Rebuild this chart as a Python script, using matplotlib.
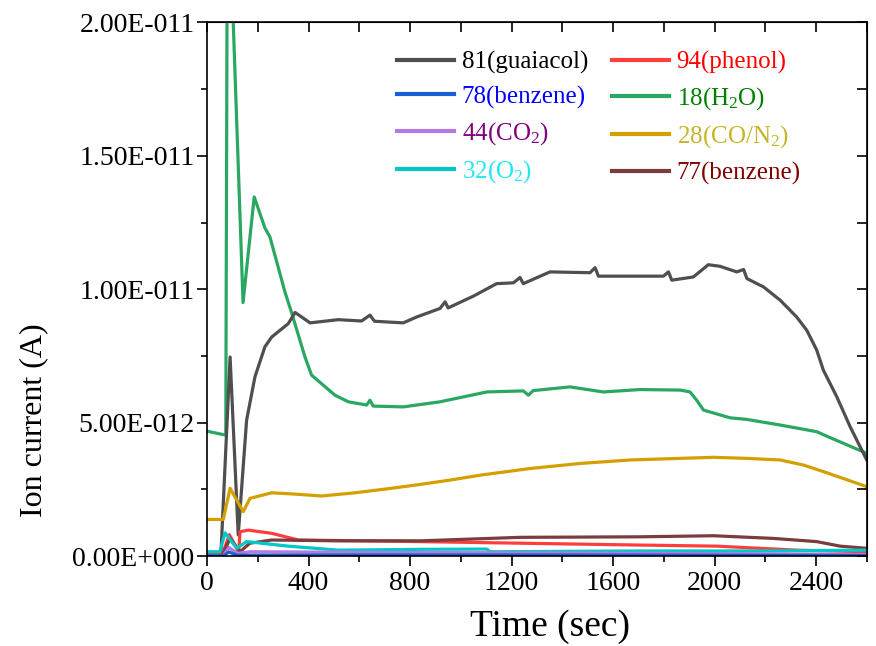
import numpy as np
import matplotlib
matplotlib.use("Agg")
import matplotlib.pyplot as plt
from matplotlib.ticker import MultipleLocator, FuncFormatter

plt.rcParams['font.family'] = ['Liberation Serif', 'DejaVu Serif']
plt.rcParams['mathtext.fontset'] = 'custom'
plt.rcParams['mathtext.rm'] = 'Liberation Serif'
plt.rcParams['mathtext.it'] = 'Liberation Serif:italic'

# ion currents in units of 1E-12 A, time in sec
t_81 = [0, 55, 91, 123, 156, 189, 228, 255, 320, 347, 406, 517, 609, 642, 660, 773, 826,
        918, 938, 950, 1049, 1141, 1207, 1233, 1246, 1351, 1509, 1529, 1542, 1706, 1798,
        1818, 1831, 1916, 1975, 2021, 2087, 2114, 2127, 2192, 2258, 2323, 2363, 2402,
        2428, 2481, 2534, 2599]
i_81 = [0.05, 0.1, 7.46, 0.79, 5.09, 6.72, 7.84, 8.21, 8.71, 9.13, 8.74, 8.86, 8.81, 9.03,
        8.8, 8.74, 8.96, 9.28, 9.53, 9.3, 9.74, 10.21, 10.24, 10.44, 10.21, 10.65, 10.62,
        10.81, 10.49, 10.49, 10.49, 10.65, 10.34, 10.46, 10.92, 10.86, 10.65, 10.74, 10.4,
        10.09, 9.59, 8.96, 8.46, 7.72, 6.97, 5.97, 4.84, 3.6]

t_18 = [0, 74, 80, 96, 142, 186, 228, 248, 307, 334, 386, 412, 504, 557, 629, 642, 655,
        773, 918, 1102, 1246, 1266, 1285, 1430, 1561, 1706, 1864, 1903, 1929, 1956, 2061,
        2127, 2258, 2402, 2442, 2599]
i_18 = [4.68, 4.53, 24.0, 22.0, 9.5, 13.46, 12.3, 11.96, 9.9, 9.1, 7.46, 6.78, 6.03, 5.78,
        5.66, 5.84, 5.62, 5.59, 5.78, 6.15, 6.19, 6.03, 6.2, 6.34, 6.15, 6.24, 6.22, 6.15,
        5.84, 5.47, 5.18, 5.12, 4.91, 4.66, 4.49, 3.85]

t_28 = [0, 64, 91, 143, 169, 255, 347, 452, 583, 728, 852, 960, 1076, 1273, 1470, 1667,
        1864, 1995, 2127, 2258, 2350, 2442, 2599]
i_28 = [1.37, 1.37, 2.54, 1.66, 2.16, 2.37, 2.32, 2.25, 2.37, 2.54, 2.7, 2.85, 3.03, 3.28,
        3.47, 3.6, 3.66, 3.7, 3.66, 3.6, 3.41, 3.12, 2.6]

t_94 = [0, 60, 88, 125, 130, 163, 255, 360, 839, 1102, 1706, 2008, 2323, 2599]
i_94 = [0.05, 0.05, 0.8, 0.15, 0.91, 0.97, 0.85, 0.6, 0.54, 0.5, 0.41, 0.37, 0.22, 0.16]

t_77 = [0, 60, 91, 130, 169, 255, 517, 846, 1233, 1706, 1995, 2231, 2402, 2494, 2599]
i_77 = [0.02, 0.02, 0.66, 0.16, 0.48, 0.6, 0.57, 0.57, 0.7, 0.72, 0.76, 0.66, 0.54, 0.37, 0.29]

t_32 = [0, 51, 71, 117, 156, 320, 517, 839, 1102, 1115, 1706, 2179, 2599]
i_32 = [0.16, 0.16, 0.87, 0.29, 0.54, 0.37, 0.22, 0.25, 0.26, 0.16, 0.19, 0.19, 0.22]

t_44 = [0, 65, 86, 120, 170, 600, 1200, 1800, 2400, 2599]
i_44 = [0.02, 0.02, 0.32, 0.1, 0.16, 0.14, 0.12, 0.1, 0.07, 0.05]

t_78 = [0, 65, 86, 120, 400, 1200, 2000, 2599]
i_78 = [0.01, 0.01, 0.15, 0.03, 0.04, 0.04, 0.03, 0.02]

fig = plt.figure(figsize=(8.76, 6.46), dpi=100)
ax = fig.add_axes([0.2363, 0.1393, 0.7534, 0.8259])

lw = 2.3
series = [
    (t_81, i_81, '#4f4f4f', '81(guaiacol)', '#000000'),
    (t_94, i_94, '#ff3d3d', '94(phenol)', '#ff0000'),
    (t_78, i_78, '#1a5fd6', '78(benzene)', '#0000ff'),
    (t_18, i_18, '#2aa862', '18(H$_2$O)', '#008000'),
    (t_44, i_44, '#b47ae0', '44(CO$_2$)', '#800080'),
    (t_28, i_28, '#d4a000', '28(CO/N$_2$)', '#c8b428'),
    (t_32, i_32, '#00c8c8', '32(O$_2$)', '#22e8f0'),
    (t_77, i_77, '#7a3c3c', '77(benzene)', '#800000'),
]
# draw order: big ones first, small ones on top
order = [3, 0, 5, 1, 7, 6, 4, 2]
lines = {}
for k in order:
    t, v, c, lab, tc = series[k]
    ln, = ax.plot(t, np.array(v) * 1e-12, color=c, lw=lw, label=lab, solid_joinstyle='round')
    lines[k] = ln

# legend is filled row by row in the reference -> give it column order
leg_order = [0, 2, 4, 6, 1, 3, 5, 7]
handles = [lines[k] for k in leg_order]
labels = [series[k][3] for k in leg_order]
leg = ax.legend(handles, labels, ncol=2, frameon=False, fontsize=18,
                loc='upper left', bbox_to_anchor=(0.272, 0.965),
                handlelength=2.3, handletextpad=0.3, columnspacing=0.95,
                labelspacing=0.45, borderaxespad=0,
                labelcolor=[series[k][4] for k in leg_order])
for h in leg.legend_handles:
    h.set_linewidth(3)

ax.set_xlim(0, 2600)
ax.set_ylim(0, 2.0e-11)


def sci_fmt(v, pos):
    if v == 0:
        return '0.00E+000'
    e = int(np.floor(np.log10(abs(v))))
    m = v / 10 ** e
    return f"{m:.2f}E{'-' if e < 0 else '+'}{abs(e):03d}"


ax.xaxis.set_major_locator(MultipleLocator(400))
ax.xaxis.set_minor_locator(MultipleLocator(200))
ax.yaxis.set_major_locator(MultipleLocator(5e-12))
ax.yaxis.set_minor_locator(MultipleLocator(2.5e-12))
ax.yaxis.set_major_formatter(FuncFormatter(sci_fmt))
ax.tick_params(which='both', direction='out', labelsize=20, width=1.2, top=False, right=False)
ax.tick_params(axis='y', pad=2)
ax.tick_params(which='major', length=7)
ax.tick_params(which='minor', length=4.5)

# top and right: inward ticks without labels
sx = ax.secondary_xaxis('top')
sx.xaxis.set_major_locator(MultipleLocator(200))
sx.tick_params(direction='in', length=7, width=1.2, labeltop=False)
sy = ax.secondary_yaxis('right')
sy.yaxis.set_major_locator(MultipleLocator(2.5e-12))
sy.tick_params(direction='in', length=7, width=1.2, labelright=False)
for sp in ax.spines.values():
    sp.set_linewidth(1.2)

ax.set_xlabel('Time (sec)', fontsize=27)
ax.set_ylabel('Ion current (A)', fontsize=23)
ax.xaxis.set_label_coords(0.52, -0.1)
ax.yaxis.set_label_coords(-0.24, 0.255)

fig.savefig('out.png', dpi=100)
